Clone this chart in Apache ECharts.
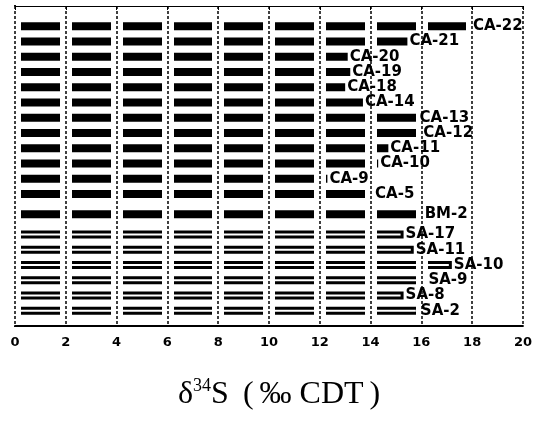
<!DOCTYPE html>
<html>
<head>
<meta charset="utf-8">
<script src="https://cdn.jsdelivr.net/npm/echarts@6/dist/echarts.min.js"></script>
<style>html,body{margin:0;padding:0;background:#fff}#c{width:535px;height:421px}</style>
</head>
<body>
<div id="c"></div>
<script>
// ---- data ----
const caLabels = ['CA-22','CA-21','CA-20','CA-19','CA-18','CA-14','CA-13','CA-12','CA-11','CA-10','CA-9','CA-5'];
const caValues = [17.95, 15.45, 13.1, 13.2, 13.0, 13.7, 15.85, 16.0, 14.7, 14.3, 12.3, 14.1];
const bmLabels = ['BM-2'];
const bmValues = [16.05];
const saLabels = ['SA-17','SA-11','SA-10','SA-9','SA-8','SA-2'];
const saValues = [15.3, 15.7, 17.2, 16.2, 15.3, 15.9];
const xTicks = [0, 2, 4, 6, 8, 10, 12, 14, 16, 18, 20];
const xTitle = 'δ³⁴S (‰ CDT)';

// ---- build category rows (sub-steps of one third of a row; extra gap between groups) ----
const groups = [
  {labels: caLabels, values: caValues, kind: 'solid'},
  {labels: bmLabels, values: bmValues, kind: 'solid'},
  {labels: saLabels, values: saValues, kind: 'hollow'}
];
const cats = [], barData = [], labelData = [];
let sp = 0;
function spacer(){ cats.push('_' + (sp++)); barData.push(null); labelData.push(null); }
for (let i = 0; i < 4; i++) spacer();
groups.forEach((g, gi) => {
  if (gi > 0) { spacer(); spacer(); spacer(); }
  g.labels.forEach((lab, i) => {
    if (i > 0) { spacer(); spacer(); }
    cats.push(lab);
    const st = g.kind === 'solid'
      ? {color: '#000', borderWidth: 0}
      : {color: '#fff', borderColor: '#000', borderWidth: 3};
    barData.push({value: g.values[i], itemStyle: st});
    labelData.push({value: g.values[i]});
  });
});
for (let i = 0; i < 3; i++) spacer();

const chart = echarts.init(document.getElementById('c'));
const boldFont = 'DejaVu Sans, sans-serif';
const serif = 'Liberation Serif, Times New Roman, serif';
const tStyle = {fontFamily: serif, fontSize: 32, fontWeight: 'normal', color: '#000', lineHeight: 34, verticalAlign: 'bottom'};
chart.setOption({
  animation: false,
  backgroundColor: '#fff',
  title: {
    text: '{d|δ}{s|34}{t|S }{p|(}{t|‰ CDT}{q|)}',
    left: 173, top: 372,
    textStyle: {
      fontWeight: 'normal',
      rich: {
        d: tStyle,
        s: {fontFamily: serif, fontSize: 18, fontWeight: 'normal', color: '#000', lineHeight: 34, verticalAlign: 'top'},
        t: tStyle,
        p: Object.assign({}, tStyle, {padding: [0, 6, 0, 6]}),
        q: Object.assign({}, tStyle, {padding: [0, 0, 0, 6]})
      }
    }
  },
  grid: {left: 15, right: 6, top: 6, bottom: 95},
  xAxis: [
    {
      type: 'value', min: xTicks[0], max: xTicks[xTicks.length - 1], interval: 2,
      position: 'bottom', z: 3,
      axisLine: {show: true, lineStyle: {color: '#000', width: 2}},
      axisTick: {show: false},
      axisLabel: {color: '#000', fontFamily: boldFont, fontWeight: 'bold', fontSize: 13, margin: 10},
      splitLine: {show: true, lineStyle: {color: '#fff', width: 12}}
    },
    {
      type: 'value', min: xTicks[0], max: xTicks[xTicks.length - 1], interval: 2,
      position: 'top', z: 5,
      axisLine: {show: true, lineStyle: {color: '#000', width: 1}},
      axisTick: {show: true, inside: true, length: 4, lineStyle: {color: '#000', width: 1}},
      axisLabel: {show: false},
      splitLine: {show: true, lineStyle: {color: '#000', width: 1.5, type: [3, 2]}}
    }
  ],
  yAxis: [
    {
      type: 'category', data: cats, inverse: true, boundaryGap: false,
      axisLine: {show: true, lineStyle: {color: '#000', width: 2}},
      axisTick: {show: true, length: 4, lineStyle: {color: '#000', width: 1},
        interval: (idx, val) => val.charAt(0) !== '_'},
      axisLabel: {show: false},
      splitLine: {show: false}
    },
    {
      type: 'category', data: cats, inverse: true, boundaryGap: false, position: 'right',
      axisLine: {show: true, lineStyle: {color: '#000', width: 2}},
      axisTick: {show: false}, axisLabel: {show: false}, splitLine: {show: false}
    }
  ],
  series: [
    {
      type: 'bar', xAxisIndex: 0, yAxisIndex: 0, data: barData, barWidth: 8, z: 2,
      silent: true
    },
    {
      type: 'bar', xAxisIndex: 0, yAxisIndex: 0, data: labelData, barWidth: 8, barGap: '-100%', z: 4,
      silent: true,
      itemStyle: {color: 'rgba(0,0,0,0)'},
      label: {show: true, position: 'right', distance: 2, formatter: '{b}', color: '#000',
        fontFamily: boldFont, fontWeight: 'bold', fontSize: 15}
    }
  ]
});
</script>
</body>
</html>
